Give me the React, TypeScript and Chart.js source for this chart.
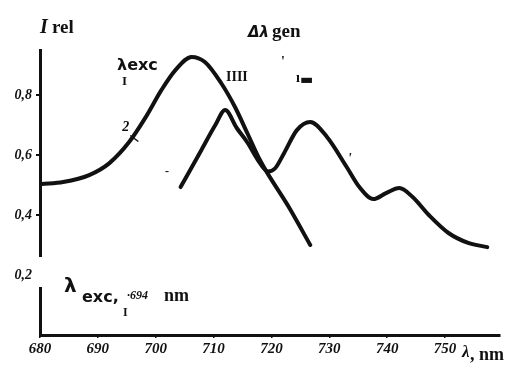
import React, { useEffect, useRef } from "react";
import { Chart, registerables } from "chart.js";

Chart.register(...registerables);

// Curve 2 (excitation, broad band)
const curve2Nm = [680.3, 684, 688.5, 692, 695.4, 698.3, 701, 703.4, 706.2, 708.5, 711.3, 713.7, 715.9, 718.1, 723.2, 726.7];
const curve2Val = [0.503, 0.51, 0.533, 0.573, 0.643, 0.727, 0.817, 0.883, 0.927, 0.91, 0.84, 0.76, 0.67, 0.58, 0.42, 0.3];

// Curve 1 (generation spectrum)
const curve1Nm = [704.3, 707.9, 710.3, 712, 714, 715.9, 717.6, 719.4, 720.6, 722.2, 724.4, 726.7, 729.6, 733, 735.2, 737.6, 739.8, 742.1, 744.4, 747.2, 750.6, 754, 757.3];
const curve1Val = [0.493, 0.617, 0.7, 0.75, 0.69, 0.64, 0.585, 0.545, 0.555, 0.607, 0.683, 0.71, 0.66, 0.56, 0.493, 0.453, 0.473, 0.49, 0.46, 0.4, 0.34, 0.307, 0.293];

const xTicks = [680, 690, 700, 710, 720, 730, 740, 750];
const yTicks = [0.2, 0.4, 0.6, 0.8];
const yTickLabels = ["0,2", "0,4", "0,6", "0,8"];

const INK = "#111";

export default function App() {
  const ref = useRef<HTMLCanvasElement | null>(null);

  useEffect(() => {
    if (!ref.current) return;
    const annot = {
      id: "annot",
      afterDraw(chart: any) {
        const ctx = chart.ctx as CanvasRenderingContext2D;
        const xs = chart.scales.x;
        const ys = chart.scales.y;
        const X = (v: number) => xs.getPixelForValue(v);
        const Y = (v: number) => ys.getPixelForValue(v);
        ctx.save();
        // gap in the y axis near the 0,2 label
        ctx.fillStyle = "#fff";
        ctx.fillRect(xs.left - 4, Y(0.26), 8, Y(0.16) - Y(0.26));
        ctx.fillStyle = INK;
        ctx.textBaseline = "alphabetic";
        ctx.textAlign = "left";
        // I rel
        ctx.font = "italic bold 20px 'Liberation Serif'";
        ctx.fillText("I", 40, 33);
        ctx.font = "bold 19px 'Liberation Serif'";
        ctx.fillText("rel", 52, 33);
        // λexc
        ctx.font = "bold 16px 'DejaVu Sans'";
        ctx.fillText("λexc", 117, 70);
        ctx.font = "bold 13px 'Liberation Serif'";
        ctx.fillText("I", 122, 85);
        // Δλgen
        ctx.font = "bold italic 15px 'DejaVu Sans'";
        ctx.fillText("Δλ", 248, 37);
        ctx.font = "bold 19px 'Liberation Serif'";
        ctx.fillText("gen", 272, 37);
        ctx.font = "bold 14px 'Liberation Serif'";
        ctx.fillText("IIII", 226, 81);
        ctx.fillText("'", 281, 66);
        ctx.fillText("ı", 296, 82);
        ctx.font = "bold 14px 'DejaVu Sans'";
        ctx.fillText("▬", 300, 84);
        // curve labels
        ctx.font = "italic bold 14px 'Liberation Serif'";
        ctx.fillText("2", X(694.2), Y(0.68));
        ctx.fillText("'", X(733.2), Y(0.575));
        ctx.lineWidth = 1.5;
        ctx.strokeStyle = INK;
        ctx.beginPath();
        ctx.moveTo(X(695.6), Y(0.665));
        ctx.lineTo(X(697), Y(0.645));
        ctx.stroke();
        ctx.font = "bold 12px 'Liberation Serif'";
        ctx.fillText("-", X(701.6), Y(0.535));
        // λexc = 694 nm
        ctx.font = "bold 20px 'DejaVu Sans'";
        ctx.fillText("λ", 64, 292);
        ctx.font = "bold 16px 'DejaVu Sans'";
        ctx.fillText("exc,", 82, 302);
        ctx.font = "bold italic 12px 'Liberation Serif'";
        ctx.fillText("·694", 127, 299);
        ctx.font = "bold 18px 'Liberation Serif'";
        ctx.fillText("nm", 164, 301);
        ctx.font = "bold 12px 'Liberation Serif'";
        ctx.fillText("I", 123, 316);
        // axis unit
        ctx.font = "bold italic 17px 'Liberation Serif'";
        ctx.fillText("λ", 462, 357);
        ctx.font = "bold 18px 'Liberation Serif'";
        ctx.fillText(", nm", 470, 360);
        ctx.restore();
      },
    };

    const common = {
      borderColor: INK,
      borderWidth: 4,
      pointRadius: 0,
      cubicInterpolationMode: "monotone",
      borderCapStyle: "round",
      borderJoinStyle: "round",
    };

    const chart = new Chart(ref.current, {
      type: "line",
      data: {
        datasets: [
          { label: "1", data: curve1Nm.map((x, i) => ({ x, y: curve1Val[i] })), ...common },
          { label: "2", data: curve2Nm.map((x, i) => ({ x, y: curve2Val[i] })), ...common },
        ],
      },
      options: {
        responsive: false,
        animation: false,
        layout: { padding: { left: 0, top: 50, right: 14, bottom: 0 } },
        plugins: { legend: { display: false }, tooltip: { enabled: false } },
        scales: {
          x: {
            type: "linear",
            min: 680,
            max: 759.5,
            afterBuildTicks: (s: any) => {
              s.ticks = xTicks.map((v) => ({ value: v }));
            },
            afterFit: (s: any) => {
              s.height = 33;
            },
            grid: { drawOnChartArea: false, drawTicks: true, tickLength: 3, color: INK, lineWidth: 1.5 },
            border: { display: true, color: INK, width: 3 },
            ticks: {
              color: INK,
              padding: 2,
              maxRotation: 0,
              font: { family: "'Liberation Serif'", style: "italic", weight: "bold", size: 15 },
              callback: (v: any) => String(v),
            },
          },
          y: {
            type: "linear",
            min: 0,
            max: 0.95,
            afterBuildTicks: (s: any) => {
              s.ticks = yTicks.map((v) => ({ value: v }));
            },
            afterFit: (s: any) => {
              s.width = 40;
            },
            grid: { drawOnChartArea: false, drawTicks: true, tickLength: 4, color: INK, lineWidth: 2 },
            border: { display: true, color: INK, width: 3 },
            ticks: {
              color: INK,
              padding: 4,
              font: { family: "'Liberation Serif'", style: "italic", weight: "bold", size: 14 },
              callback: (v: any) => {
                const i = yTicks.indexOf(Number(v));
                return i >= 0 ? yTickLabels[i] : "";
              },
            },
          },
        },
      },
      plugins: [annot],
    } as any);
    return () => chart.destroy();
  }, []);

  return (
    <div style={{ position: "fixed", left: 0, top: 0, width: 514, height: 368, background: "#fff" }}>
      <canvas ref={ref} width={514} height={368} style={{ display: "block" }} />
    </div>
  );
}
